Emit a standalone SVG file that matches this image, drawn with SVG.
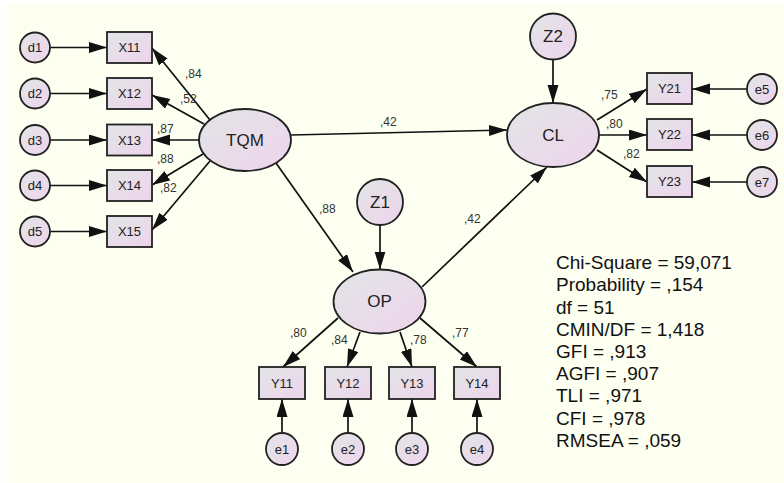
<svg xmlns="http://www.w3.org/2000/svg" width="784" height="483" viewBox="0 0 784 483">
<defs>
<linearGradient id="g" x1="0" y1="0" x2="1" y2="1">
<stop offset="0" stop-color="#E2E5E6"/>
<stop offset="1" stop-color="#EED4EC"/>
</linearGradient>
<marker id="a" markerUnits="userSpaceOnUse" markerWidth="19" markerHeight="12" refX="18" refY="5.5" orient="auto">
<path d="M0,0 L18,5.5 L0,11 z" fill="#111"/>
</marker>
</defs>
<style>
.n{fill:url(#g);stroke:#222;stroke-width:1.8}
.t{font-family:"Liberation Sans",Arial,sans-serif;fill:#222;text-anchor:middle;dominant-baseline:central}
.s{font-size:13px}
.l{font-size:17px}
.c line{stroke:#111;stroke-width:1.7;marker-end:url(#a)}
.e{font-family:"Liberation Sans",Arial,sans-serif;font-size:12px;fill:#333}
.st{font-family:"Liberation Sans",Arial,sans-serif;font-size:19px;fill:#111}
</style>
<rect x="0" y="0" width="784" height="483" fill="#fff"/>
<rect x="6" y="3" width="778" height="480" fill="#FDFFF0"/>

<g id="connectors" class="c">
<line x1="50" y1="47.5" x2="107" y2="47.5"/>
<line x1="50" y1="93.5" x2="107" y2="93.5"/>
<line x1="50" y1="140" x2="107" y2="140"/>
<line x1="50" y1="185.5" x2="107" y2="185.5"/>
<line x1="50" y1="231.5" x2="107" y2="231.5"/>
<line x1="210" y1="120" x2="152" y2="48"/>
<line x1="204" y1="124" x2="152" y2="95"/>
<line x1="199" y1="140" x2="152" y2="140"/>
<line x1="203" y1="154" x2="152" y2="185"/>
<line x1="210" y1="161" x2="152" y2="230"/>
<line x1="291" y1="135" x2="507" y2="130"/>
<line x1="276" y1="163" x2="353" y2="272"/>
<line x1="380" y1="225" x2="380" y2="269.5"/>
<line x1="553" y1="59.5" x2="553" y2="103"/>
<line x1="422" y1="287" x2="547" y2="167"/>
<line x1="597" y1="120" x2="647" y2="89"/>
<line x1="599" y1="135" x2="647" y2="135"/>
<line x1="597" y1="150" x2="647" y2="182"/>
<line x1="338" y1="318" x2="283" y2="367"/>
<line x1="360" y1="332" x2="347" y2="367"/>
<line x1="400" y1="332" x2="412" y2="367"/>
<line x1="420" y1="318" x2="477" y2="367"/>
<line x1="282" y1="433" x2="282" y2="399"/>
<line x1="348" y1="433" x2="348" y2="399"/>
<line x1="412" y1="433" x2="412" y2="399"/>
<line x1="477" y1="433" x2="477" y2="399"/>
<line x1="747" y1="89" x2="692" y2="89"/>
<line x1="747" y1="135" x2="692" y2="135"/>
<line x1="747" y1="182" x2="692" y2="182"/>
</g>

<g id="edge-labels">
<text class="e" x="185" y="78">,84</text>
<text class="e" x="180" y="103">,52</text>
<text class="e" x="157" y="133">,87</text>
<text class="e" x="157" y="163">,88</text>
<text class="e" x="160" y="192">,82</text>
<text class="e" x="380" y="126">,42</text>
<text class="e" x="319" y="213">,88</text>
<text class="e" x="464" y="223">,42</text>
<text class="e" x="601" y="99">,75</text>
<text class="e" x="606" y="128">,80</text>
<text class="e" x="623" y="158">,82</text>
<text class="e" x="290" y="337">,80</text>
<text class="e" x="331" y="344">,84</text>
<text class="e" x="410" y="344">,78</text>
<text class="e" x="452" y="337">,77</text>
</g>

<g id="d1"><circle class="n" cx="35" cy="47.5" r="15"/><text class="t s" x="35" y="47.5">d1</text></g>
<g id="d2"><circle class="n" cx="35" cy="93.5" r="15"/><text class="t s" x="35" y="93.5">d2</text></g>
<g id="d3"><circle class="n" cx="35" cy="140" r="15"/><text class="t s" x="35" y="140">d3</text></g>
<g id="d4"><circle class="n" cx="35" cy="185.5" r="15"/><text class="t s" x="35" y="185.5">d4</text></g>
<g id="d5"><circle class="n" cx="35" cy="231.5" r="15"/><text class="t s" x="35" y="231.5">d5</text></g>

<g id="X11"><rect class="n" x="107" y="32" width="45" height="31"/><text class="t s" x="129.5" y="47.5">X11</text></g>
<g id="X12"><rect class="n" x="107" y="78" width="45" height="31"/><text class="t s" x="129.5" y="93.5">X12</text></g>
<g id="X13"><rect class="n" x="107" y="124.5" width="45" height="31"/><text class="t s" x="129.5" y="140">X13</text></g>
<g id="X14"><rect class="n" x="107" y="170" width="45" height="31"/><text class="t s" x="129.5" y="185.5">X14</text></g>
<g id="X15"><rect class="n" x="107" y="216" width="45" height="31"/><text class="t s" x="129.5" y="231.5">X15</text></g>

<g id="TQM"><ellipse class="n" cx="245" cy="140" rx="46" ry="31"/><text class="t l" x="245" y="140">TQM</text></g>
<g id="CL"><ellipse class="n" cx="553" cy="135" rx="46" ry="32"/><text class="t l" x="553" y="135">CL</text></g>
<g id="OP"><ellipse class="n" cx="379.5" cy="301.5" rx="46" ry="32"/><text class="t l" x="379.5" y="301.5">OP</text></g>
<g id="Z1"><circle class="n" cx="380" cy="202" r="23"/><text class="t l" x="380" y="202">Z1</text></g>
<g id="Z2"><circle class="n" cx="553" cy="36.5" r="23"/><text class="t l" x="553" y="36.5">Z2</text></g>

<g id="Y21"><rect class="n" x="647" y="73" width="45" height="31"/><text class="t s" x="669.5" y="88.5">Y21</text></g>
<g id="Y22"><rect class="n" x="647" y="119" width="45" height="31"/><text class="t s" x="669.5" y="134.5">Y22</text></g>
<g id="Y23"><rect class="n" x="647" y="166" width="45" height="31"/><text class="t s" x="669.5" y="181.5">Y23</text></g>
<g id="e5"><circle class="n" cx="762" cy="89" r="15"/><text class="t s" x="762" y="89">e5</text></g>
<g id="e6"><circle class="n" cx="762" cy="135" r="15"/><text class="t s" x="762" y="135">e6</text></g>
<g id="e7"><circle class="n" cx="762" cy="182" r="15"/><text class="t s" x="762" y="182">e7</text></g>

<g id="Y11"><rect class="n" x="259" y="367" width="46" height="32"/><text class="t s" x="282" y="383">Y11</text></g>
<g id="Y12"><rect class="n" x="325" y="367" width="46" height="32"/><text class="t s" x="348" y="383">Y12</text></g>
<g id="Y13"><rect class="n" x="389" y="367" width="46" height="32"/><text class="t s" x="412" y="383">Y13</text></g>
<g id="Y14"><rect class="n" x="454" y="367" width="46" height="32"/><text class="t s" x="477" y="383">Y14</text></g>
<g id="e1"><circle class="n" cx="282" cy="449" r="16"/><text class="t s" x="282" y="449">e1</text></g>
<g id="e2"><circle class="n" cx="348" cy="449" r="16"/><text class="t s" x="348" y="449">e2</text></g>
<g id="e3"><circle class="n" cx="412" cy="449" r="16"/><text class="t s" x="412" y="449">e3</text></g>
<g id="e4"><circle class="n" cx="477" cy="449" r="16"/><text class="t s" x="477" y="449">e4</text></g>

<g id="fit-stats">
<text class="st" x="556" y="269">Chi-Square = 59,071</text>
<text class="st" x="556" y="291">Probability = ,154</text>
<text class="st" x="556" y="313.5">df = 51</text>
<text class="st" x="556" y="335.5">CMIN/DF = 1,418</text>
<text class="st" x="556" y="358">GFI = ,913</text>
<text class="st" x="556" y="380">AGFI = ,907</text>
<text class="st" x="556" y="402">TLI = ,971</text>
<text class="st" x="556" y="424.5">CFI = ,978</text>
<text class="st" x="556" y="446.5">RMSEA = ,059</text>
</g>
</svg>
